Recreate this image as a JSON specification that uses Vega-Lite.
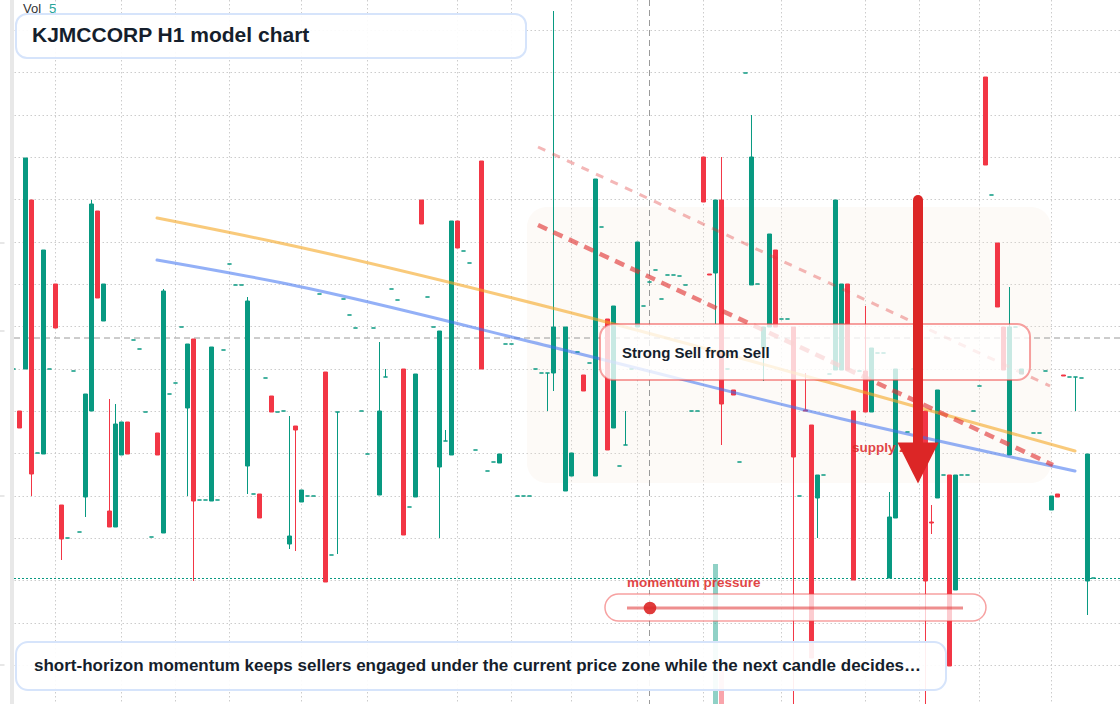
{
  "$schema": "https://vega.github.io/schema/vega-lite/v6.json",
  "width": 1106,
  "height": 704,
  "padding": {"left": 14, "top": 0, "right": 0, "bottom": 0},
  "autosize": {"type": "none"},
  "background": "#ffffff",
  "config": {"view": {"stroke": null}, "font": "Liberation Sans"},
  "datasets": {
    "candles": [
      {"k":-2,"o":33.5,"c":33.5},{"k":-1,"o":29.3,"c":27.6},{"k":0,"o":33.5,"c":54.6},{"k":1,"o":50.4,"c":23.0,"h":50.4,"l":20.8},
      {"k":2,"o":25.1,"c":25.1},{"k":3,"o":25.0,"c":45.4},{"k":4,"o":33.5,"c":33.5},{"k":5,"o":42.0,"c":37.6},
      {"k":6,"o":19.9,"c":16.5,"h":19.9,"l":14.4},{"k":7,"o":16.6,"c":16.6},{"k":8,"o":33.3,"c":33.3},{"k":9,"o":17.2,"c":17.2},
      {"k":10,"o":20.7,"c":31.0,"h":31.0,"l":18.7},{"k":11,"o":29.3,"c":50.0,"h":50.4,"l":29.3},{"k":12,"o":49.3,"c":40.6},{"k":13,"o":38.3,"c":42.0},
      {"k":14,"o":19.3,"c":17.7,"h":30.5,"l":17.7},{"k":15,"o":17.7,"c":28.0,"h":30.0,"l":17.7},{"k":16,"o":24.9,"c":28.2},{"k":17,"o":28.2,"c":25.0},
      {"k":18,"o":36.4,"c":36.4},{"k":19,"o":35.5,"c":35.5},{"k":20,"o":29.2,"c":29.2},{"k":21,"o":16.7,"c":16.7},
      {"k":22,"o":27.1,"c":24.9},{"k":23,"o":17.1,"c":41.3,"h":41.5,"l":17.1},{"k":24,"o":31.0,"c":31.0},{"k":25,"o":32.1,"c":32.1},
      {"k":26,"o":37.7,"c":37.7},{"k":27,"o":29.6,"c":36.0,"h":36.0,"l":20.8},{"k":28,"o":36.5,"c":20.3,"h":36.5,"l":12.3},{"k":29,"o":20.4,"c":20.4},
      {"k":30,"o":20.4,"c":20.4},{"k":31,"o":20.3,"c":35.7},{"k":32,"o":20.4,"c":20.4},{"k":33,"o":35.4,"c":35.4},
      {"k":34,"o":44.0,"c":44.0},{"k":35,"o":41.9,"c":41.9},{"k":36,"o":41.9,"c":41.9},{"k":37,"o":23.8,"c":40.3,"h":40.7,"l":21.0},
      {"k":38,"o":21.0,"c":21.0},{"k":39,"o":21.0,"c":18.6},{"k":40,"o":32.6,"c":32.6},{"k":41,"o":30.8,"c":29.2},
      {"k":42,"o":29.2,"c":29.2},{"k":43,"o":29.3,"c":29.3},{"k":44,"o":16.0,"c":16.8,"h":28.8,"l":15.5},{"k":45,"o":27.8,"c":27.4,"h":27.8,"l":15.3},
      {"k":46,"o":20.2,"c":21.4},{"k":47,"o":20.8,"c":20.8},{"k":48,"o":20.8,"c":20.8},{"k":49,"o":41.0,"c":41.0},
      {"k":50,"o":33.2,"c":12.2},{"k":51,"o":14.9,"c":14.9},{"k":52,"o":29.2,"c":29.2,"h":29.2,"l":15.0},{"k":53,"o":40.5,"c":40.5},
      {"k":54,"o":38.9,"c":38.9},{"k":55,"o":37.6,"c":37.6},{"k":56,"o":29.3,"c":29.3},{"k":57,"o":25.0,"c":25.0},
      {"k":58,"o":37.6,"c":37.6},{"k":59,"o":20.9,"c":29.3,"h":36.2,"l":20.9},{"k":60,"o":32.7,"c":32.7,"h":33.5,"l":32.7},{"k":61,"o":41.5,"c":41.5},
      {"k":62,"o":40.4,"c":40.4},{"k":63,"o":33.5,"c":16.9},{"k":64,"o":19.7,"c":19.7},{"k":65,"o":20.7,"c":33.0},
      {"k":66,"o":50.4,"c":48.0},{"k":67,"o":40.7,"c":40.7},{"k":68,"o":37.7,"c":37.7},{"k":69,"o":23.7,"c":37.3,"h":37.3,"l":16.6},
      {"k":70,"o":26.3,"c":26.3,"h":27.4,"l":26.3},{"k":71,"o":24.9,"c":48.3},{"k":72,"o":48.3,"c":45.6},{"k":73,"o":45.3,"c":45.3},
      {"k":74,"o":44.1,"c":44.1},{"k":75,"o":25.4,"c":25.4},{"k":76,"o":54.3,"c":33.5},{"k":77,"o":23.3,"c":23.3},
      {"k":78,"o":24.2,"c":24.2},{"k":79,"o":24.1,"c":25.0},{"k":80,"o":36.0,"c":36.0},{"k":81,"o":36.0,"c":36.0},
      {"k":82,"o":20.8,"c":20.8},{"k":83,"o":20.8,"c":20.8},{"k":84,"o":20.8,"c":20.8},{"k":85,"o":33.5,"c":33.5},
      {"k":86,"o":33.1,"c":33.1},{"k":87,"o":33.1,"c":33.1,"h":33.1,"l":29.3},{"k":88,"o":33.1,"c":37.7,"h":69.3,"l":31.3},
      {"k":90,"o":21.3,"c":37.7},{"k":91,"o":22.8,"c":25.1},{"k":92,"o":35.2,"c":35.2},{"k":93,"o":32.9,"c":31.3},
      {"k":94,"o":34.1,"c":34.1},{"k":95,"o":22.8,"c":52.5},{"k":96,"o":47.7,"c":47.7},{"k":97,"o":38.5,"c":25.4},
      {"k":98,"o":27.6,"c":39.8},{"k":99,"o":23.8,"c":23.8},{"k":100,"o":25.9,"c":25.9,"h":29.3,"l":25.9},{"k":101,"o":33.5,"c":33.5},
      {"k":102,"o":37.7,"c":46.2},{"k":103,"o":39.8,"c":39.8},{"k":104,"o":42.2,"c":42.2},{"k":105,"o":43.4,"c":43.4},
      {"k":106,"o":40.5,"c":40.5},{"k":107,"o":42.9,"c":42.9},{"k":108,"o":42.9,"c":42.9},{"k":109,"o":42.8,"c":42.8},
      {"k":110,"o":41.9,"c":41.9},{"k":111,"o":29.3,"c":29.3},{"k":112,"o":29.3,"c":29.3},{"k":113,"o":54.7,"c":50.2},
      {"k":114,"o":43.0,"c":42.9},{"k":115,"o":43.1,"c":50.4,"h":50.4,"l":38.0,"vol":14.0},{"k":116,"o":50.4,"c":30.0,"h":54.7,"l":25.9,"vol":3.5},
      {"k":117,"o":33.5,"c":33.5},{"k":118,"o":31.4,"c":30.9},{"k":119,"o":24.2,"c":24.2},{"k":120,"o":63.1,"c":63.1},
      {"k":121,"o":41.9,"c":54.7,"h":58.9,"l":41.9},{"k":122,"o":42.0,"c":42.0},{"k":123,"o":35.6,"c":37.7,"h":37.7,"l":32.3},{"k":124,"o":37.7,"c":47.0},
      {"k":125,"o":45.4,"c":37.7},{"k":126,"o":38.5,"c":38.5},{"k":127,"o":38.5,"c":38.5},{"k":128,"o":37.7,"c":24.7,"h":37.7,"l":-0.6},
      {"k":129,"o":20.8,"c":20.8},{"k":130,"o":29.4,"c":29.3,"h":33.1,"l":29.3},{"k":131,"o":27.9,"c":4.6},{"k":132,"o":20.6,"c":22.9,"h":22.9,"l":16.6},
      {"k":133,"o":22.9,"c":22.9},{"k":134,"o":33.0,"c":33.0},{"k":135,"o":33.4,"c":50.4},{"k":136,"o":33.4,"c":42.0},
      {"k":137,"o":42.0,"c":33.4},{"k":138,"o":29.3,"c":12.4},{"k":139,"o":33.3,"c":33.3},{"k":140,"o":33.3,"c":29.2,"h":39.8,"l":29.2},
      {"k":141,"o":29.2,"c":35.6},{"k":142,"o":35.1,"c":35.1},{"k":143,"o":35.1,"c":35.1},{"k":144,"o":12.6,"c":18.7,"h":21.2,"l":12.6},
      {"k":145,"o":18.6,"c":33.5},{"k":147,"o":27.2,"c":27.2},{"k":148,"o":33.5,"c":33.5},
      {"k":150,"o":29.3,"c":12.3,"h":29.3,"l":-0.6},{"k":151,"o":18.2,"c":18.1,"h":19.9,"l":17.0},{"k":152,"o":20.6,"c":31.4},{"k":153,"o":22.9,"c":22.9},
      {"k":154,"o":22.9,"c":3.8},{"k":155,"o":11.4,"c":22.9},{"k":156,"o":22.9,"c":22.9},{"k":157,"o":22.9,"c":22.9},
      {"k":158,"o":29.3,"c":29.3},{"k":159,"o":31.8,"c":31.8},{"k":160,"o":62.7,"c":53.9},{"k":161,"o":50.9,"c":50.9},
      {"k":162,"o":46.1,"c":39.7},{"k":163,"o":37.7,"c":33.4},{"k":164,"o":24.9,"c":37.7,"h":41.7,"l":24.9},{"k":165,"o":37.7,"c":37.7},
      {"k":166,"o":33.0,"c":33.5},{"k":168,"o":27.1,"c":27.1},{"k":169,"o":27.1,"c":27.1},{"k":170,"o":33.3,"c":33.3},
      {"k":171,"o":19.4,"c":20.8},{"k":172,"o":21.0,"c":20.7},{"k":173,"o":32.9,"c":32.8},{"k":174,"o":32.7,"c":32.7},
      {"k":175,"o":32.7,"c":32.7,"h":32.7,"l":29.3},{"k":176,"o":32.6,"c":32.6},{"k":177,"o":12.3,"c":25.0,"h":25.0,"l":8.9},{"k":178,"o":12.6,"c":12.6}
    ],
    "gridx": [{"g":5},{"g":16},{"g":25},{"g":34},{"g":46},{"g":57},{"g":72},{"g":81},{"g":91},{"g":102},{"g":113},{"g":126},{"g":140},{"g":149},{"g":159},{"g":171}],
    "gridy": [{"g":67.35},{"g":63.15},{"g":58.85},{"g":54.65},{"g":50.45},{"g":46.15},{"g":41.95},{"g":37.75},{"g":33.45},{"g":29.25},{"g":25.05},{"g":20.75},{"g":16.55},{"g":12.35},{"g":8.05},{"g":3.85}],
    "yticks": [{"g":46.1},{"g":37.3},{"g":20.8},{"g":3.9}],
    "orange": [{"k":21.92,"v":48.6},{"k":42.42,"v":46.1},{"k":89.08,"v":39.4},{"k":135.75,"v":31.85},{"k":174.92,"v":25.3}],
    "blue": [{"k":21.92,"v":44.4},{"k":42.42,"v":42.15},{"k":89.08,"v":35.5},{"k":135.75,"v":28.55},{"k":174.92,"v":23.3}],
    "zone": [{"x1":83.58,"x2":170.92,"y1":49.7,"y2":22.1}]
  },
  "layer": [
    {
      "data": {"name": "gridx"},
      "mark": {"type": "rule", "color": "#cccccc", "strokeWidth": 1, "strokeDash": [1.5, 2.5]},
      "encoding": {
        "x": {"field": "g", "type": "quantitative", "scale": {"domain": [-1.9167, 182.4167], "nice": false, "zero": false, "padding": 0}, "axis": null}
      }
    },
    {
      "data": {"name": "gridy"},
      "mark": {"type": "rule", "color": "#cccccc", "strokeWidth": 1, "strokeDash": [1.5, 2.5]},
      "encoding": {
        "y": {"field": "g", "type": "quantitative", "scale": {"domain": [0, 70.4], "nice": false, "zero": false, "padding": 0}, "axis": null}
      }
    },
    {
      "data": {"name": "yticks"},
      "transform": [{"filter": "isValid(datum.g)"}],
      "mark": {"type": "rule", "color": "#cfcfcf", "strokeWidth": 1, "clip": false},
      "encoding": {
        "x": {"datum": -4.25, "type": "quantitative", "scale": {"domain": [-1.9167, 182.4167], "nice": false, "zero": false, "padding": 0}, "axis": null},
        "x2": {"datum": -3.5},
        "y": {"field": "g", "type": "quantitative", "scale": {"domain": [0, 70.4], "nice": false, "zero": false, "padding": 0}, "axis": null}
      }
    },
    {
      "data": {"values": [{"x1": -2.583, "x2": -1.9167, "y1": 70.4, "y2": 0}]},
      "mark": {"type": "rect", "fill": "#e8e8e8", "clip": false},
      "encoding": {
        "x": {"field": "x1", "type": "quantitative", "scale": {"domain": [-1.9167, 182.4167], "nice": false, "zero": false, "padding": 0}, "axis": null},
        "x2": {"field": "x2"},
        "y": {"field": "y1", "type": "quantitative", "scale": {"domain": [0, 70.4], "nice": false, "zero": false, "padding": 0}, "axis": null},
        "y2": {"field": "y2"}
      }
    },
    {
      "data": {"name": "zone"},
      "mark": {"type": "rect", "fill": "#f3e6d8", "opacity": 0.2, "cornerRadius": 20},
      "encoding": {
        "x": {"field": "x1", "type": "quantitative", "scale": {"domain": [-1.9167, 182.4167], "nice": false, "zero": false, "padding": 0}, "axis": null},
        "x2": {"field": "x2"},
        "y": {"field": "y1", "type": "quantitative", "scale": {"domain": [0, 70.4], "nice": false, "zero": false, "padding": 0}, "axis": null},
        "y2": {"field": "y2"}
      }
    },
    {
      "data": {"name": "candles"},
      "mark": {"type": "bar", "size": 5, "opacity": 0.45, "orient": "vertical", "clip": true},
      "encoding": {
        "x": {"field": "k", "type": "quantitative", "scale": {"domain": [-1.9167, 182.4167], "nice": false, "zero": false, "padding": 0}, "axis": null},
        "y": {"field": "vol", "type": "quantitative", "scale": {"domain": [0, 70.4], "nice": false, "zero": false, "padding": 0}, "axis": null},
        "y2": {"datum": 0},
        "color": {"condition": {"test": "datum.c >= datum.o", "value": "#089981"}, "value": "#f23645"}
      }
    },
    {
      "data": {"values": [{}]},
      "mark": {"type": "rule", "color": "#9a9a9a", "strokeWidth": 1, "strokeDash": [6, 4]},
      "encoding": {"x": {"datum": 104, "type": "quantitative", "scale": {"domain": [-1.9167, 182.4167], "nice": false, "zero": false, "padding": 0}, "axis": null}}
    },
    {
      "data": {"values": [{}]},
      "mark": {"type": "rule", "color": "#9a9a9a", "strokeWidth": 1, "strokeDash": [6, 4]},
      "encoding": {"y": {"datum": 36.6, "type": "quantitative", "scale": {"domain": [0, 70.4], "nice": false, "zero": false, "padding": 0}, "axis": null}}
    },
    {
      "data": {"values": [{}]},
      "mark": {"type": "rule", "color": "#089981", "strokeWidth": 1.2, "strokeDash": [2, 2]},
      "encoding": {"y": {"datum": 12.55, "type": "quantitative", "scale": {"domain": [0, 70.4], "nice": false, "zero": false, "padding": 0}, "axis": null}}
    },
    {
      "data": {"name": "candles"},
      "mark": {"type": "rule", "strokeWidth": 1, "clip": true},
      "encoding": {
        "x": {"field": "k", "type": "quantitative", "scale": {"domain": [-1.9167, 182.4167], "nice": false, "zero": false, "padding": 0}, "axis": null},
        "y": {"field": "l", "type": "quantitative", "scale": {"domain": [0, 70.4], "nice": false, "zero": false, "padding": 0}, "axis": null},
        "y2": {"field": "h"},
        "color": {"condition": {"test": "datum.c >= datum.o", "value": "#089981"}, "value": "#f23645"}
      }
    },
    {
      "data": {"name": "candles"},
      "mark": {"type": "bar", "size": 4, "strokeWidth": 1, "orient": "vertical", "clip": true},
      "encoding": {
        "x": {"field": "k", "type": "quantitative", "scale": {"domain": [-1.9167, 182.4167], "nice": false, "zero": false, "padding": 0}, "axis": null},
        "y": {"field": "o", "type": "quantitative", "scale": {"domain": [0, 70.4], "nice": false, "zero": false, "padding": 0}, "axis": null},
        "y2": {"field": "c"},
        "color": {"condition": {"test": "datum.c >= datum.o", "value": "#089981"}, "value": "#f23645"},
        "stroke": {"condition": {"test": "datum.c >= datum.o", "value": "#089981"}, "value": "#f23645"}
      }
    },
    {
      "data": {"name": "orange"},
      "mark": {"type": "line", "color": "#f5a623", "opacity": 0.6, "strokeWidth": 3, "interpolate": "monotone", "strokeCap": "round"},
      "encoding": {
        "x": {"field": "k", "type": "quantitative", "scale": {"domain": [-1.9167, 182.4167], "nice": false, "zero": false, "padding": 0}, "axis": null},
        "y": {"field": "v", "type": "quantitative", "scale": {"domain": [0, 70.4], "nice": false, "zero": false, "padding": 0}, "axis": null}
      }
    },
    {
      "data": {"name": "blue"},
      "mark": {"type": "line", "color": "#3b6ff0", "opacity": 0.55, "strokeWidth": 3, "interpolate": "monotone", "strokeCap": "round"},
      "encoding": {
        "x": {"field": "k", "type": "quantitative", "scale": {"domain": [-1.9167, 182.4167], "nice": false, "zero": false, "padding": 0}, "axis": null},
        "y": {"field": "v", "type": "quantitative", "scale": {"domain": [0, 70.4], "nice": false, "zero": false, "padding": 0}, "axis": null}
      }
    },
    {
      "data": {"values": [{"x1": 85.42, "y1": 55.7, "x2": 170.75, "y2": 31.8}]},
      "mark": {"type": "rule", "color": "#e03131", "opacity": 0.35, "strokeWidth": 3, "strokeDash": [8, 8]},
      "encoding": {
        "x": {"field": "x1", "type": "quantitative", "scale": {"domain": [-1.9167, 182.4167], "nice": false, "zero": false, "padding": 0}, "axis": null},
        "x2": {"field": "x2"},
        "y": {"field": "y1", "type": "quantitative", "scale": {"domain": [0, 70.4], "nice": false, "zero": false, "padding": 0}, "axis": null},
        "y2": {"field": "y2"}
      }
    },
    {
      "data": {"values": [{"x1": 85.42, "y1": 47.9, "x2": 171.25, "y2": 23.9}]},
      "mark": {"type": "rule", "color": "#e03131", "opacity": 0.62, "strokeWidth": 4.5, "strokeDash": [10, 7]},
      "encoding": {
        "x": {"field": "x1", "type": "quantitative", "scale": {"domain": [-1.9167, 182.4167], "nice": false, "zero": false, "padding": 0}, "axis": null},
        "x2": {"field": "x2"},
        "y": {"field": "y1", "type": "quantitative", "scale": {"domain": [0, 70.4], "nice": false, "zero": false, "padding": 0}, "axis": null},
        "y2": {"field": "y2"}
      }
    },
    {
      "data": {"values": [{"x1": 95.75, "x2": 167.42, "y1": 38.0, "y2": 32.4}]},
      "mark": {"type": "rect", "fill": "#ffffff", "fillOpacity": 0.78, "stroke": "#ef4444", "strokeOpacity": 0.5, "strokeWidth": 2, "cornerRadius": 13},
      "encoding": {
        "x": {"field": "x1", "type": "quantitative", "scale": {"domain": [-1.9167, 182.4167], "nice": false, "zero": false, "padding": 0}, "axis": null},
        "x2": {"field": "x2"},
        "y": {"field": "y1", "type": "quantitative", "scale": {"domain": [0, 70.4], "nice": false, "zero": false, "padding": 0}, "axis": null},
        "y2": {"field": "y2"}
      }
    },
    {
      "data": {"values": [{"x1": 96.58, "x2": 160.08, "y1": 11.0, "y2": 8.3}]},
      "mark": {"type": "rect", "fill": "#ffffff", "fillOpacity": 0.75, "stroke": "#ef4444", "strokeOpacity": 0.5, "strokeWidth": 1.5, "cornerRadius": 13.5},
      "encoding": {
        "x": {"field": "x1", "type": "quantitative", "scale": {"domain": [-1.9167, 182.4167], "nice": false, "zero": false, "padding": 0}, "axis": null},
        "x2": {"field": "x2"},
        "y": {"field": "y1", "type": "quantitative", "scale": {"domain": [0, 70.4], "nice": false, "zero": false, "padding": 0}, "axis": null},
        "y2": {"field": "y2"}
      }
    },
    {
      "data": {"values": [{"x1": -1.58, "x2": 153.42, "y1": 6.2, "y2": 1.4}]},
      "mark": {"type": "rect", "fill": "#ffffff", "fillOpacity": 0.92, "stroke": "#d6e4fb", "strokeWidth": 2, "cornerRadius": 12},
      "encoding": {
        "x": {"field": "x1", "type": "quantitative", "scale": {"domain": [-1.9167, 182.4167], "nice": false, "zero": false, "padding": 0}, "axis": null},
        "x2": {"field": "x2"},
        "y": {"field": "y1", "type": "quantitative", "scale": {"domain": [0, 70.4], "nice": false, "zero": false, "padding": 0}, "axis": null},
        "y2": {"field": "y2"}
      }
    },
    {
      "data": {"values": [{"x1": -1.58, "x2": 83.42, "y1": 69.0, "y2": 64.6}]},
      "mark": {"type": "rect", "fill": "#ffffff", "fillOpacity": 0.92, "stroke": "#d6e4fb", "strokeWidth": 2, "cornerRadius": 11},
      "encoding": {
        "x": {"field": "x1", "type": "quantitative", "scale": {"domain": [-1.9167, 182.4167], "nice": false, "zero": false, "padding": 0}, "axis": null},
        "x2": {"field": "x2"},
        "y": {"field": "y1", "type": "quantitative", "scale": {"domain": [0, 70.4], "nice": false, "zero": false, "padding": 0}, "axis": null},
        "y2": {"field": "y2"}
      }
    },
    {
      "data": {"values": [{"x1": 100.25, "x2": 156.25, "y": 9.6}]},
      "mark": {"type": "rule", "color": "#e03131", "opacity": 0.55, "strokeWidth": 3},
      "encoding": {
        "x": {"field": "x1", "type": "quantitative", "scale": {"domain": [-1.9167, 182.4167], "nice": false, "zero": false, "padding": 0}, "axis": null},
        "x2": {"field": "x2"},
        "y": {"field": "y", "type": "quantitative", "scale": {"domain": [0, 70.4], "nice": false, "zero": false, "padding": 0}, "axis": null}
      }
    },
    {
      "data": {"values": [{"x": 104.08, "y": 9.6}]},
      "mark": {"type": "point", "shape": "circle", "filled": true, "size": 160, "color": "#dc2626", "opacity": 0.9},
      "encoding": {
        "x": {"field": "x", "type": "quantitative", "scale": {"domain": [-1.9167, 182.4167], "nice": false, "zero": false, "padding": 0}, "axis": null},
        "y": {"field": "y", "type": "quantitative", "scale": {"domain": [0, 70.4], "nice": false, "zero": false, "padding": 0}, "axis": null}
      }
    },
    {
      "data": {"values": [{"x": 1.08, "y": 66.8, "t": "KJMCCORP H1 model chart"}]},
      "mark": {"type": "text", "align": "left", "baseline": "middle", "font": "Liberation Sans", "fontWeight": "bold", "fontSize": 21, "color": "#151e2c"},
      "encoding": {
        "x": {"field": "x", "type": "quantitative", "scale": {"domain": [-1.9167, 182.4167], "nice": false, "zero": false, "padding": 0}, "axis": null},
        "y": {"field": "y", "type": "quantitative", "scale": {"domain": [0, 70.4], "nice": false, "zero": false, "padding": 0}, "axis": null},
        "text": {"field": "t"}
      }
    },
    {
      "data": {"values": [{"x": 1.42, "y": 3.8, "t": "short-horizon momentum keeps sellers engaged under the current price zone while the next candle decides…"}]},
      "mark": {"type": "text", "align": "left", "baseline": "middle", "font": "Liberation Sans", "fontWeight": "bold", "fontSize": 17, "color": "#151e2c"},
      "encoding": {
        "x": {"field": "x", "type": "quantitative", "scale": {"domain": [-1.9167, 182.4167], "nice": false, "zero": false, "padding": 0}, "axis": null},
        "y": {"field": "y", "type": "quantitative", "scale": {"domain": [0, 70.4], "nice": false, "zero": false, "padding": 0}, "axis": null},
        "text": {"field": "t"}
      }
    },
    {
      "data": {"values": [{"x": 99.42, "y": 35.1, "t": "Strong Sell from Sell"}]},
      "mark": {"type": "text", "align": "left", "baseline": "middle", "font": "Liberation Sans", "fontWeight": "bold", "fontSize": 15, "color": "#151e2c"},
      "encoding": {
        "x": {"field": "x", "type": "quantitative", "scale": {"domain": [-1.9167, 182.4167], "nice": false, "zero": false, "padding": 0}, "axis": null},
        "y": {"field": "y", "type": "quantitative", "scale": {"domain": [0, 70.4], "nice": false, "zero": false, "padding": 0}, "axis": null},
        "text": {"field": "t"}
      }
    },
    {
      "data": {"values": [{"x": 100.25, "y": 12.1, "t": "momentum pressure"}, {"x": 137.75, "y": 25.6, "t": "supply zone"}]},
      "mark": {"type": "text", "align": "left", "baseline": "middle", "font": "Liberation Sans", "fontWeight": "bold", "fontSize": 13.5, "color": "#dc2626", "opacity": 0.85},
      "encoding": {
        "x": {"field": "x", "type": "quantitative", "scale": {"domain": [-1.9167, 182.4167], "nice": false, "zero": false, "padding": 0}, "axis": null},
        "y": {"field": "y", "type": "quantitative", "scale": {"domain": [0, 70.4], "nice": false, "zero": false, "padding": 0}, "axis": null},
        "text": {"field": "t"}
      }
    },
    {
      "data": {"values": [{"x": -0.42, "y": 69.5, "t": "Vol"}]},
      "mark": {"type": "text", "align": "left", "baseline": "middle", "font": "Liberation Sans", "fontSize": 13, "color": "#333333"},
      "encoding": {
        "x": {"field": "x", "type": "quantitative", "scale": {"domain": [-1.9167, 182.4167], "nice": false, "zero": false, "padding": 0}, "axis": null},
        "y": {"field": "y", "type": "quantitative", "scale": {"domain": [0, 70.4], "nice": false, "zero": false, "padding": 0}, "axis": null},
        "text": {"field": "t"}
      }
    },
    {
      "data": {"values": [{"x": 3.92, "y": 69.5, "t": "5"}]},
      "mark": {"type": "text", "align": "left", "baseline": "middle", "font": "Liberation Sans", "fontSize": 13, "color": "#26a69a"},
      "encoding": {
        "x": {"field": "x", "type": "quantitative", "scale": {"domain": [-1.9167, 182.4167], "nice": false, "zero": false, "padding": 0}, "axis": null},
        "y": {"field": "y", "type": "quantitative", "scale": {"domain": [0, 70.4], "nice": false, "zero": false, "padding": 0}, "axis": null},
        "text": {"field": "t"}
      }
    },
    {
      "data": {"values": [{"x": 148.75, "y1": 50.4, "y2": 26.1}]},
      "mark": {"type": "rule", "color": "#dc2626", "strokeWidth": 10, "strokeCap": "round"},
      "encoding": {
        "x": {"field": "x", "type": "quantitative", "scale": {"domain": [-1.9167, 182.4167], "nice": false, "zero": false, "padding": 0}, "axis": null},
        "y": {"field": "y1", "type": "quantitative", "scale": {"domain": [0, 70.4], "nice": false, "zero": false, "padding": 0}, "axis": null},
        "y2": {"field": "y2"}
      }
    },
    {
      "data": {"values": [{"x": 148.75, "y": 24.1}]},
      "mark": {"type": "point", "shape": "M-1,-1L1,-1L0,1Z", "filled": true, "size": 1700, "color": "#dc2626", "opacity": 1, "strokeWidth": 0},
      "encoding": {
        "x": {"field": "x", "type": "quantitative", "scale": {"domain": [-1.9167, 182.4167], "nice": false, "zero": false, "padding": 0}, "axis": null},
        "y": {"field": "y", "type": "quantitative", "scale": {"domain": [0, 70.4], "nice": false, "zero": false, "padding": 0}, "axis": null}
      }
    }
  ]
}
